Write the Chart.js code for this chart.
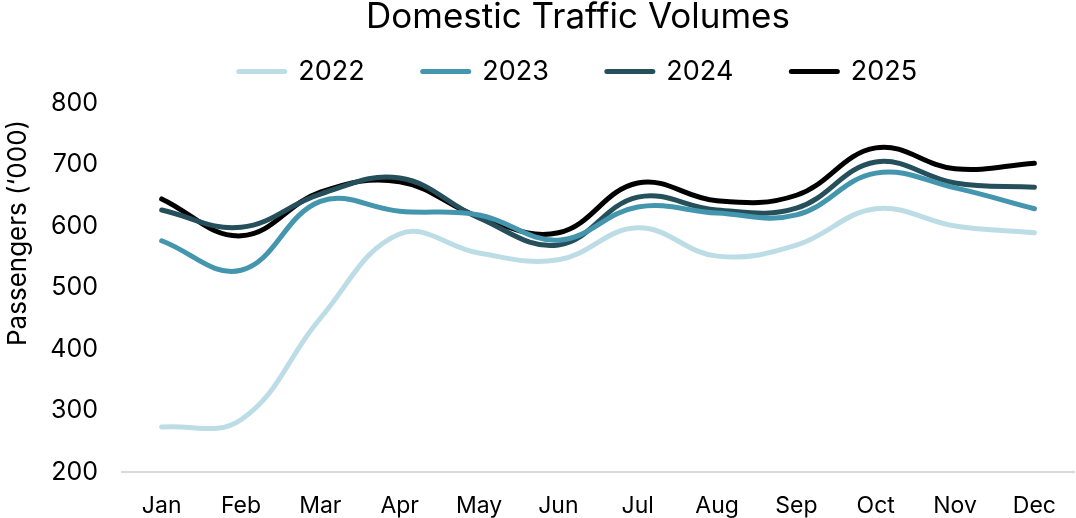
<!DOCTYPE html>
<html>
<head>
<meta charset="utf-8">
<script src="https://cdn.jsdelivr.net/npm/chart.js@4"></script>
<style>
html,body{margin:0;padding:0;background:#fff;}
#wrap{width:1076px;height:518px;position:relative;}
</style>
</head>
<body>
<div id="wrap"><canvas id="c"></canvas></div>
<script>
const categories = ['Jan','Feb','Mar','Apr','May','Jun','Jul','Aug','Sep','Oct','Nov','Dec'];
const y2022 = [273, 285, 450, 587, 556, 545, 597, 551, 569, 628, 600, 589];
const y2023 = [576, 528, 640, 624, 618, 577, 631, 621, 618, 686, 662, 628];
const y2024 = [626, 598, 652, 678, 613, 569, 647, 626, 629, 704, 670, 663];
const y2025 = [644, 584, 655, 672, 615, 589, 670, 641, 650, 727, 693, 702];
const seriesNames = ['2022','2023','2024','2025'];
const seriesColors = ['#bcdde5','#4396ae','#254f5a','#000000'];
const yTicks = [200,300,400,500,600,700,800];
const yTitle = "Passengers (\u2018000)";

const FONT = "Inter, 'Liberation Sans', Arial, sans-serif";
const allData = [y2022,y2023,y2024,y2025];

// shift title & legend so they sit where the reference places them
const placePlugin = {
  id: 'place',
  afterLayout(chart) {
    const dx = 40;
    const t = chart.titleBlock;
    if (t) { t.left += dx; t.right += dx; }
    const l = chart.legend;
    if (l) { l.left += dx; l.right += dx; l.top = 0; l.bottom = 100; }
  },
  afterDraw(chart) {
    const ctx = chart.ctx;
    ctx.save();
    ctx.translate(18, 233);
    ctx.rotate(-Math.PI / 2);
    ctx.fillStyle = '#000';
    ctx.font = "26px " + FONT;
    ctx.textAlign = 'center';
    ctx.textBaseline = 'middle';
    ctx.fillText(yTitle, 0, 0);
    ctx.restore();
  }
};

new Chart(document.getElementById('c'), {
  type: 'line',
  data: {
    labels: categories,
    datasets: allData.map((d,i)=>({
      label: seriesNames[i],
      data: d,
      borderColor: seriesColors[i],
      backgroundColor: seriesColors[i],
      borderWidth: 5,
      tension: 0.4,
      pointRadius: 0,
      borderCapStyle: 'round',
      borderJoinStyle: 'round',
      fill: false
    }))
  },
  plugins: [placePlugin],
  options: {
    responsive: true,
    maintainAspectRatio: false,
    animation: false,
    layout: { padding: { left: 0, right: 0, top: 0, bottom: 0 } },
    plugins: {
      title: {
        display: true,
        text: 'Domestic Traffic Volumes',
        color: '#000',
        font: { family: FONT, size: 35, weight: 'normal', lineHeight: 1 },
        padding: { top: 0, bottom: 20 }
      },
      legend: {
        display: true,
        position: 'top',
        maxHeight: 48,
        labels: {
          color: '#000',
          font: { family: FONT, size: 27 },
          usePointStyle: true,
          pointStyle: 'line',
          pointStyleWidth: 46,
          boxHeight: 5,
          padding: 58,
          generateLabels: (chart) => chart.data.datasets.map((ds,i)=>({
            text: ds.label,
            fillStyle: ds.borderColor,
            strokeStyle: ds.borderColor,
            lineWidth: 5,
            lineCap: 'round',
            pointStyle: 'line',
            hidden: false,
            datasetIndex: i,
            fontColor: '#000'
          }))
        }
      },
      tooltip: { enabled: false }
    },
    scales: {
      x: {
        offset: true,
        grid: { display: false, drawTicks: false },
        border: { display: true, color: '#d9d9d9', width: 2 },
        ticks: { color: '#000', font: { family: FONT, size: 23 }, padding: 20, maxRotation: 0 },
        afterFit: (s) => { s.height = 46; }
      },
      y: {
        min: 200, max: 800,
        grid: { display: false, drawTicks: false },
        border: { display: false },
        afterBuildTicks: (s) => { s.ticks = yTicks.map(v=>({value:v})); },
        ticks: { color: '#000', font: { family: FONT, size: 25 }, padding: 24 },
        afterFit: (s) => { s.width = 122; }
      }
    }
  }
});
</script>
</body>
</html>
